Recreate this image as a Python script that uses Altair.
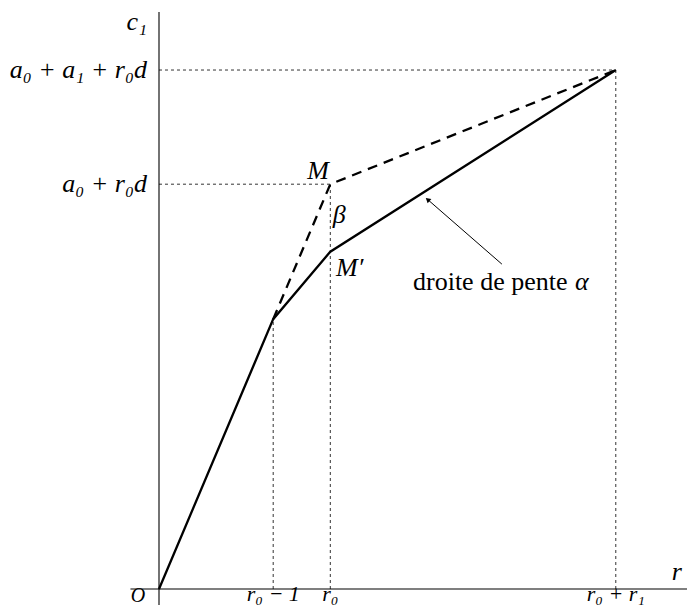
import altair as alt
import pandas as pd

# ---- data (abstract diagram units) ----
solid_r = [0, 4, 6, 16]
solid_c = [0, 52, 65, 100]
dashed_r = [4, 6, 16]
dashed_c = [52, 78, 100]

x_tick_vals = [4, 6, 16]
x_tick_labels = ["r₀ − 1", "r₀", "r₀ + r₁"]
y_tick_vals = [78, 100]
y_tick_labels = ["a₀ + r₀d", "a₀ + a₁ + r₀d"]

# guide lines (dotted): start/end points
guide_r = [0, 0, 4, 6, 16]
guide_r2 = [16, 6, 4, 6, 16]
guide_c = [100, 78, 0, 0, 0]
guide_c2 = [100, 78, 52, 78, 100]

# arrow (tail -> tip)
arrow_r = [12.01, 9.41]
arrow_c = [62.6, 75.05]

XD = [-5.289, 18.494]
YD = [-3.08, 111.95]
W, H = 679, 597
FONT = "Liberation Serif"
FS = 26

xs = alt.Scale(domain=XD, nice=False, zero=False)
ys = alt.Scale(domain=YD, nice=False, zero=False)


def X(f="r"):
    return alt.X(f"{f}:Q", scale=xs, axis=None)


def Y(f="c"):
    return alt.Y(f"{f}:Q", scale=ys, axis=None)


def text_layer(df, align, italic=True, size=FS, baseline="middle"):
    kw = dict(font=FONT, fontSize=size, baseline=baseline, align=align)
    if italic:
        kw["fontStyle"] = "italic"
    return alt.Chart(df).mark_text(**kw).encode(x=X(), y=Y(), text="t:N")


# axes as rules
axes_df = pd.DataFrame({
    "r": [-1.0, 0.0], "r2": [XD[1], 0.0],
    "c": [0.0, YD[0]], "c2": [0.0, 111.2],
})
axes = alt.Chart(axes_df).mark_rule(color="black", strokeWidth=1.1).encode(
    x=X(), x2="r2:Q", y=Y(), y2="c2:Q")

guides_df = pd.DataFrame({"r": guide_r, "r2": guide_r2, "c": guide_c, "c2": guide_c2})
guides = alt.Chart(guides_df).mark_rule(color="#333333", strokeWidth=1, strokeDash=[3, 3]).encode(
    x=X(), x2="r2:Q", y=Y(), y2="c2:Q")

solid_df = pd.DataFrame({"r": solid_r, "c": solid_c, "o": range(len(solid_r))})
solid = alt.Chart(solid_df).mark_line(color="black", strokeWidth=2.3, strokeJoin="miter").encode(
    x=X(), y=Y(), order="o:Q")

dashed_df = pd.DataFrame({"r": dashed_r, "c": dashed_c, "o": range(len(dashed_r))})
dashed = alt.Chart(dashed_df).mark_line(color="black", strokeWidth=2.3, strokeDash=[10, 7]).encode(
    x=X(), y=Y(), order="o:Q")

arrow_df = pd.DataFrame({"r": arrow_r, "c": arrow_c, "o": [0, 1]})
arrow_line = alt.Chart(arrow_df).mark_line(color="black", strokeWidth=1).encode(
    x=X(), y=Y(), order="o:Q")
arrow_head = alt.Chart(pd.DataFrame({"r": [arrow_r[1]], "c": [arrow_c[1]]})).mark_point(
    shape="triangle-up", filled=True, color="black", size=32, angle=311, opacity=1).encode(
    x=X(), y=Y())

# tick labels (bottom ones sit at the page edge: keep them slightly smaller and raised)
xlabels = text_layer(pd.DataFrame({"r": x_tick_vals, "c": [-2.31] * 3, "t": x_tick_labels}),
                     "center", size=22, baseline="alphabetic")
olabel = text_layer(pd.DataFrame({"r": [-0.74], "c": [-2.45], "t": ["O"]}),
                    "center", size=20, baseline="alphabetic")
ylabels = text_layer(pd.DataFrame({"r": [-0.42] * 2, "c": y_tick_vals, "t": y_tick_labels}), "right")

# other annotations
ann_center = text_layer(pd.DataFrame({
    "r": [18.14, 5.57], "c": [3.3, 80.5], "t": ["r", "M"]}), "center")
ann_left = text_layer(pd.DataFrame({
    "r": [6.09, 6.2, 14.57], "c": [72.1, 61.85, 59.15], "t": ["β", "M′", "α"]}), "left")
ann_right = text_layer(pd.DataFrame({"r": [-0.42], "c": [109.3], "t": ["c₁"]}), "right")
note = text_layer(pd.DataFrame({"r": [8.897], "c": [59.15], "t": ["droite de pente"]}), "left",
                  italic=False)

chart = alt.layer(
    guides, axes, dashed, solid, arrow_line, arrow_head,
    xlabels, olabel, ylabels, ann_center, ann_left, ann_right, note
).properties(
    width=W, height=H, autosize=alt.AutoSizeParams(type="none"), padding=0,
    background="white"
).configure_view(stroke=None)

chart.save("out.html", embed_options={"renderer": "svg", "actions": False})
